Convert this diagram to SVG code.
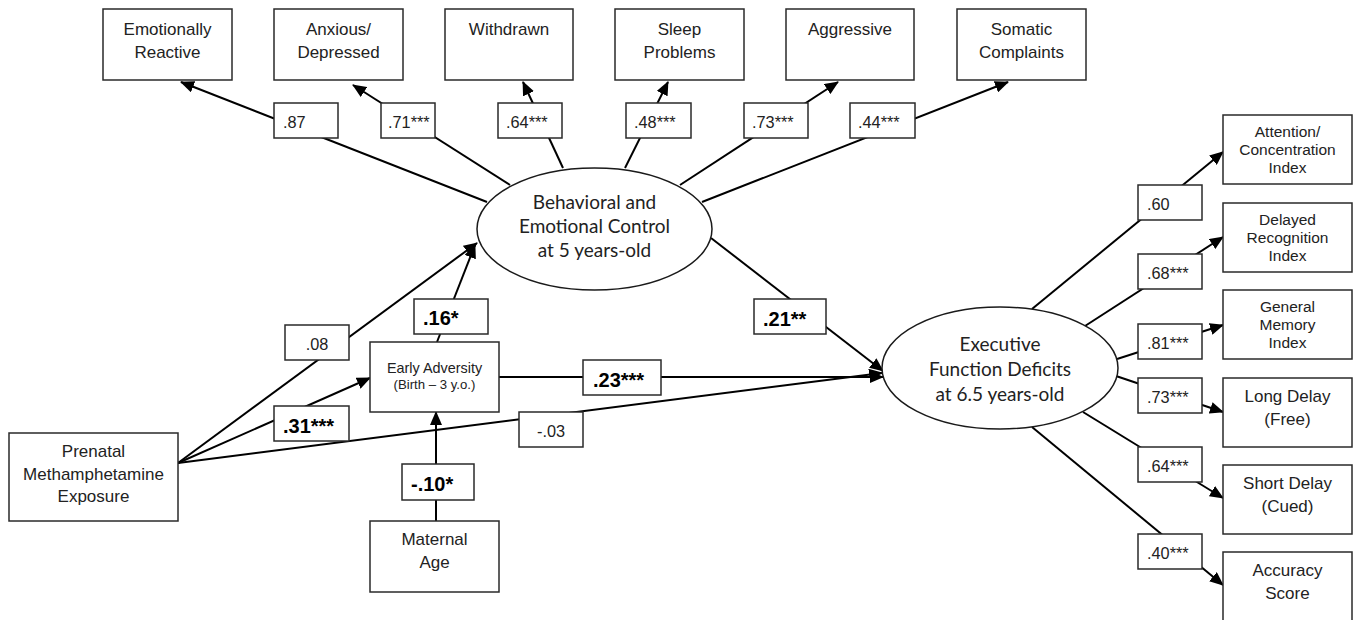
<svg xmlns="http://www.w3.org/2000/svg" width="1356" height="620" viewBox="0 0 1356 620">
<defs>
<marker id="ah" markerUnits="userSpaceOnUse" markerWidth="14" markerHeight="12" refX="13" refY="6" orient="auto">
<path d="M0,0 L14,6 L0,12 z" fill="#000"/>
</marker>
<style>
.box{fill:#fff;stroke:#2a2a2a;stroke-width:1.5}
.ell{fill:#fff;stroke:#1a1a1a;stroke-width:1.5}
.ln{stroke:#000;stroke-width:2;fill:none}
.arr{stroke:#000;stroke-width:2;fill:none;marker-end:url(#ah)}
.t{font-family:"Liberation Sans",Arial,sans-serif;font-size:17px;fill:#222;text-anchor:middle}
.ts{font-family:"Liberation Sans",Arial,sans-serif;font-size:15.5px;fill:#222;text-anchor:middle}
.ea{font-family:"Liberation Sans",Arial,sans-serif;font-size:14.4px;fill:#222;text-anchor:middle}
.eb{font-family:"Liberation Sans",Arial,sans-serif;font-size:13.2px;fill:#222;text-anchor:middle}
.lt{font-family:"Liberation Sans",Arial,sans-serif;font-size:16.3px;fill:#222}
.lc{font-family:"Liberation Sans",Arial,sans-serif;font-size:16.3px;fill:#222;text-anchor:middle}
.lb{font-family:"Liberation Sans",Arial,sans-serif;font-size:20px;font-weight:bold;fill:#000}
.el{font-family:Lato,"Open Sans",sans-serif;font-size:19px;fill:#222;text-anchor:middle}
</style>
</defs>
<rect width="1356" height="620" fill="#fff"/>

<g id="connectors">
<line class="arr" x1="487" y1="202" x2="181" y2="82"/>
<line class="arr" x1="510" y1="185" x2="353" y2="85"/>
<line class="arr" x1="563" y1="168" x2="523" y2="82"/>
<line class="arr" x1="625" y1="168" x2="668" y2="82"/>
<line class="arr" x1="680" y1="185" x2="838" y2="82"/>
<line class="arr" x1="702" y1="202" x2="1008" y2="82"/>
<line class="arr" x1="1032" y1="309" x2="1223" y2="152"/>
<line class="arr" x1="1085" y1="326" x2="1223" y2="237"/>
<line class="arr" x1="1117" y1="359" x2="1223" y2="325"/>
<line class="arr" x1="1116" y1="376" x2="1223" y2="412"/>
<line class="arr" x1="1083" y1="412" x2="1223" y2="498"/>
<line class="arr" x1="1032" y1="427" x2="1223" y2="585"/>
<line class="arr" x1="178" y1="463" x2="477" y2="243"/>
<line class="arr" x1="437" y1="342" x2="475" y2="245"/>
<line class="arr" x1="178" y1="463" x2="370" y2="378"/>
<line class="arr" x1="178" y1="463" x2="882" y2="373"/>
<line class="arr" x1="499" y1="377" x2="883" y2="377"/>
<line class="arr" x1="711" y1="238" x2="883" y2="371"/>
<line class="arr" x1="436" y1="521" x2="436" y2="412"/>
</g>

<g id="emotionally-reactive"><rect class="box" x="103" y="9" width="129" height="71"/><text class="t" x="167.5" y="35">Emotionally</text><text class="t" x="167.5" y="58">Reactive</text></g>
<g id="anxious-depressed"><rect class="box" x="274" y="9" width="129" height="71"/><text class="t" x="338.5" y="35">Anxious/</text><text class="t" x="338.5" y="58">Depressed</text></g>
<g id="withdrawn"><rect class="box" x="445" y="9" width="128" height="71"/><text class="t" x="509" y="35">Withdrawn</text></g>
<g id="sleep-problems"><rect class="box" x="615" y="9" width="129" height="71"/><text class="t" x="679.5" y="35">Sleep</text><text class="t" x="679.5" y="58">Problems</text></g>
<g id="aggressive"><rect class="box" x="786" y="9" width="128" height="71"/><text class="t" x="850" y="35">Aggressive</text></g>
<g id="somatic-complaints"><rect class="box" x="957" y="9" width="129" height="71"/><text class="t" x="1021.5" y="35">Somatic</text><text class="t" x="1021.5" y="58">Complaints</text></g>

<g id="attention"><rect class="box" x="1223" y="115" width="129" height="69"/><text class="ts" x="1287.5" y="137">Attention/</text><text class="ts" x="1287.5" y="155">Concentration</text><text class="ts" x="1287.5" y="173">Index</text></g>
<g id="delayed-recognition"><rect class="box" x="1223" y="203" width="129" height="69"/><text class="ts" x="1287.5" y="225">Delayed</text><text class="ts" x="1287.5" y="243">Recognition</text><text class="ts" x="1287.5" y="261">Index</text></g>
<g id="general-memory"><rect class="box" x="1223" y="290" width="129" height="69"/><text class="ts" x="1287.5" y="312">General</text><text class="ts" x="1287.5" y="330">Memory</text><text class="ts" x="1287.5" y="348">Index</text></g>
<g id="long-delay"><rect class="box" x="1223" y="378" width="129" height="69"/><text class="t" x="1287.5" y="402">Long Delay</text><text class="t" x="1287.5" y="425">(Free)</text></g>
<g id="short-delay"><rect class="box" x="1223" y="465" width="129" height="69"/><text class="t" x="1287.5" y="489">Short Delay</text><text class="t" x="1287.5" y="512">(Cued)</text></g>
<g id="accuracy"><rect class="box" x="1223" y="552" width="129" height="70"/><text class="t" x="1287.5" y="576">Accuracy</text><text class="t" x="1287.5" y="599">Score</text></g>

<g id="prenatal"><rect class="box" x="9" y="433" width="169" height="88"/><text class="t" x="93.5" y="457">Prenatal</text><text class="t" x="93.5" y="480">Methamphetamine</text><text class="t" x="93.5" y="502">Exposure</text></g>
<g id="early-adversity"><rect class="box" x="370" y="342" width="129" height="70"/><text class="ea" x="434.5" y="373">Early Adversity</text><text class="eb" x="434.5" y="389">(Birth – 3 y.o.)</text></g>
<g id="maternal-age"><rect class="box" x="370" y="521" width="129" height="71"/><text class="t" x="434.5" y="545">Maternal</text><text class="t" x="434.5" y="568">Age</text></g>

<g id="behavioral-emotional-control"><ellipse class="ell" cx="594.5" cy="229" rx="117.5" ry="61"/><text class="el" x="594.5" y="209">Behavioral and</text><text class="el" x="594.5" y="233">Emotional Control</text><text class="el" x="594.5" y="257">at 5 years-old</text></g>
<g id="executive-function"><ellipse class="ell" cx="1000" cy="368" rx="118" ry="61"/><text class="el" x="1000" y="351">Executive</text><text class="el" x="1000" y="376">Function Deficits</text><text class="el" x="1000" y="401">at 6.5 years-old</text></g>

<g id="labels">
<rect class="box" x="274" y="103" width="64" height="35"/><text class="lt" x="283" y="128">.87</text>
<rect class="box" x="381" y="103" width="54" height="35"/><text class="lt" x="388" y="128">.71***</text>
<rect class="box" x="498" y="103" width="64" height="35"/><text class="lt" x="506" y="128">.64***</text>
<rect class="box" x="626" y="103" width="65" height="35"/><text class="lt" x="634" y="128">.48***</text>
<rect class="box" x="744" y="103" width="64" height="35"/><text class="lt" x="752" y="128">.73***</text>
<rect class="box" x="850" y="103" width="65" height="35"/><text class="lt" x="858" y="128">.44***</text>
<rect class="box" x="1138" y="185" width="64" height="35"/><text class="lt" x="1147" y="210">.60</text>
<rect class="box" x="1138" y="254" width="64" height="35"/><text class="lt" x="1147" y="279">.68***</text>
<rect class="box" x="1138" y="324" width="64" height="35"/><text class="lt" x="1147" y="349">.81***</text>
<rect class="box" x="1138" y="378" width="64" height="35"/><text class="lt" x="1147" y="403">.73***</text>
<rect class="box" x="1138" y="447" width="64" height="35"/><text class="lt" x="1147" y="472">.64***</text>
<rect class="box" x="1138" y="534" width="64" height="35"/><text class="lt" x="1147" y="559">.40***</text>
<rect class="box" x="285" y="325" width="64" height="35"/><text class="lc" x="317" y="350">.08</text>
<rect class="box" x="519" y="412" width="64" height="35"/><text class="lc" x="551" y="437">-.03</text>
<rect class="box" x="274" y="406" width="75" height="35"/><text class="lb" x="283" y="433">.31***</text>
<rect class="box" x="414" y="299" width="74" height="35"/><text class="lb" x="423" y="325">.16*</text>
<rect class="box" x="402" y="464" width="72" height="36"/><text class="lb" x="411" y="491">-.10*</text>
<rect class="box" x="583" y="360" width="78" height="35"/><text class="lb" x="593" y="387">.23***</text>
<rect class="box" x="754" y="299" width="72" height="35"/><text class="lb" x="763" y="326">.21**</text>
</g>
</svg>
